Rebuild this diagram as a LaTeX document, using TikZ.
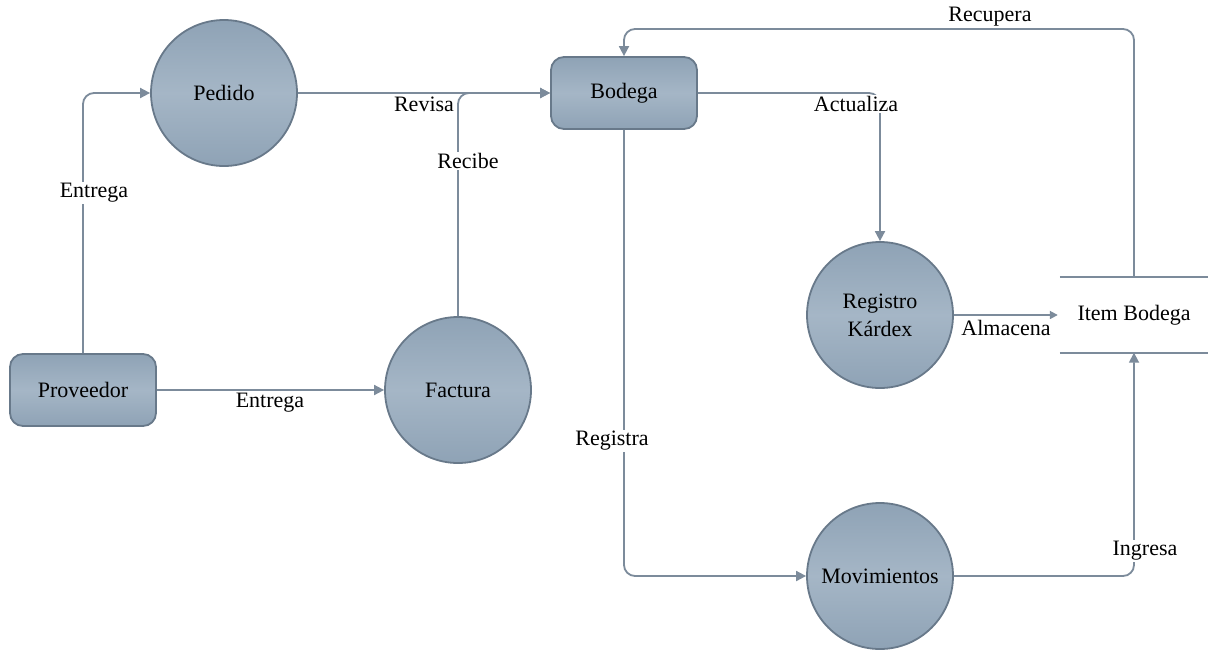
\documentclass[tikz,border=0pt]{standalone}
\usepackage{fontspec}
\setmainfont{Liberation Serif}
\usetikzlibrary{arrows.meta}
\definecolor{linegray}{RGB}{124,139,155}
\definecolor{edgegray}{RGB}{104,121,138}
\definecolor{shadetop}{RGB}{120,143,165}
\definecolor{shademid}{RGB}{165,182,198}
\definecolor{shadebot}{RGB}{120,143,165}
% soft light band across the middle of each shape
\pgfdeclareverticalshading{nodeshade}{100bp}{%
  color(0bp)=(shadebot); color(50bp)=(shademid); color(100bp)=(shadetop)}
\newcommand{\dfdfont}{\fontsize{22}{28}\selectfont}
\tikzset{
  proc/.style={circle, draw=edgegray, line width=1.8pt, minimum size=146pt,
    inner sep=0pt, shading=nodeshade, shading angle=0,
    align=center, font=\dfdfont},
  ext/.style={rectangle, rounded corners=13pt, draw=edgegray, line width=1.8pt,
    minimum width=146pt, minimum height=72pt,
    shading=nodeshade, shading angle=0, font=\dfdfont},
  store/.style={minimum width=148pt, minimum height=75pt, inner sep=0pt,
    font=\dfdfont},
  flow/.style={draw=linegray, line width=1.8pt, rounded corners=11pt,
    -{Triangle[length=10pt,width=10pt]}},
  lbl/.style={fill=white, inner sep=1.5pt, font=\dfdfont}
}
\begin{document}
\begin{tikzpicture}[x=1pt,y=-1pt]
  \useasboundingbox[fill=white] (0,0) rectangle (1212,649);

  % entities and processes
  \node[ext]  (prov) at (83,390)  {Proveedor};
  \node[ext]  (bod)  at (624,93)  {Bodega};
  \node[proc] (ped)  at (224,93)  {Pedido};
  \node[proc] (fac)  at (458,390) {Factura};
  \node[proc] (reg)  at (880,315) {Registro\\Kárdex};
  \node[proc] (mov)  at (880,576) {Movimientos};
  \node[store] (ib)  at (1134,315) {Item Bodega};
  \draw[draw=linegray, line width=1.8pt] (ib.north west) -- (ib.north east);
  \draw[draw=linegray, line width=1.8pt] (ib.south west) -- (ib.south east);

  \coordinate (rtop) at (624,29);

  % data flows
  \draw[flow] (prov.north) |- (ped.west);
  \draw[flow] (prov.east) -- (fac.west);
  \draw[flow] (ped.east) -- (bod.west);
  \draw[flow] (fac.north) |- (bod.west);
  \draw[flow] (bod.east) -| (reg.north);
  \draw[flow] (bod.south) |- (mov.west);
  \draw[draw=linegray, line width=1.8pt, -{Triangle[length=8pt,width=8pt]}]
    (reg.east) -- ([xshift=-2pt]ib.west);
  \draw[flow] (mov.east) -| (ib.south);
  \draw[flow] (ib.north) |- (rtop) -- (bod.north);

  % flow labels
  \node[lbl] (l1) at (94,193)  {Entrega};
  \node[lbl] (l2) at (270,403) {Entrega};
  \node[lbl] (l3) at (424,104) {Revisa};
  \node[lbl] (l4) at (468,161) {Recibe};
  \node[lbl] (l5) at (856,104) {Actualiza};
  \node[lbl] (l6) at (612,441) {Registra};
  \node[lbl] (l7) at (1006,328) {Almacena};
  \node[lbl] (l8) at (1145,551) {Ingresa};
  \node[lbl] (l9) at (990,17)  {Recupera};
\end{tikzpicture}
\end{document}
